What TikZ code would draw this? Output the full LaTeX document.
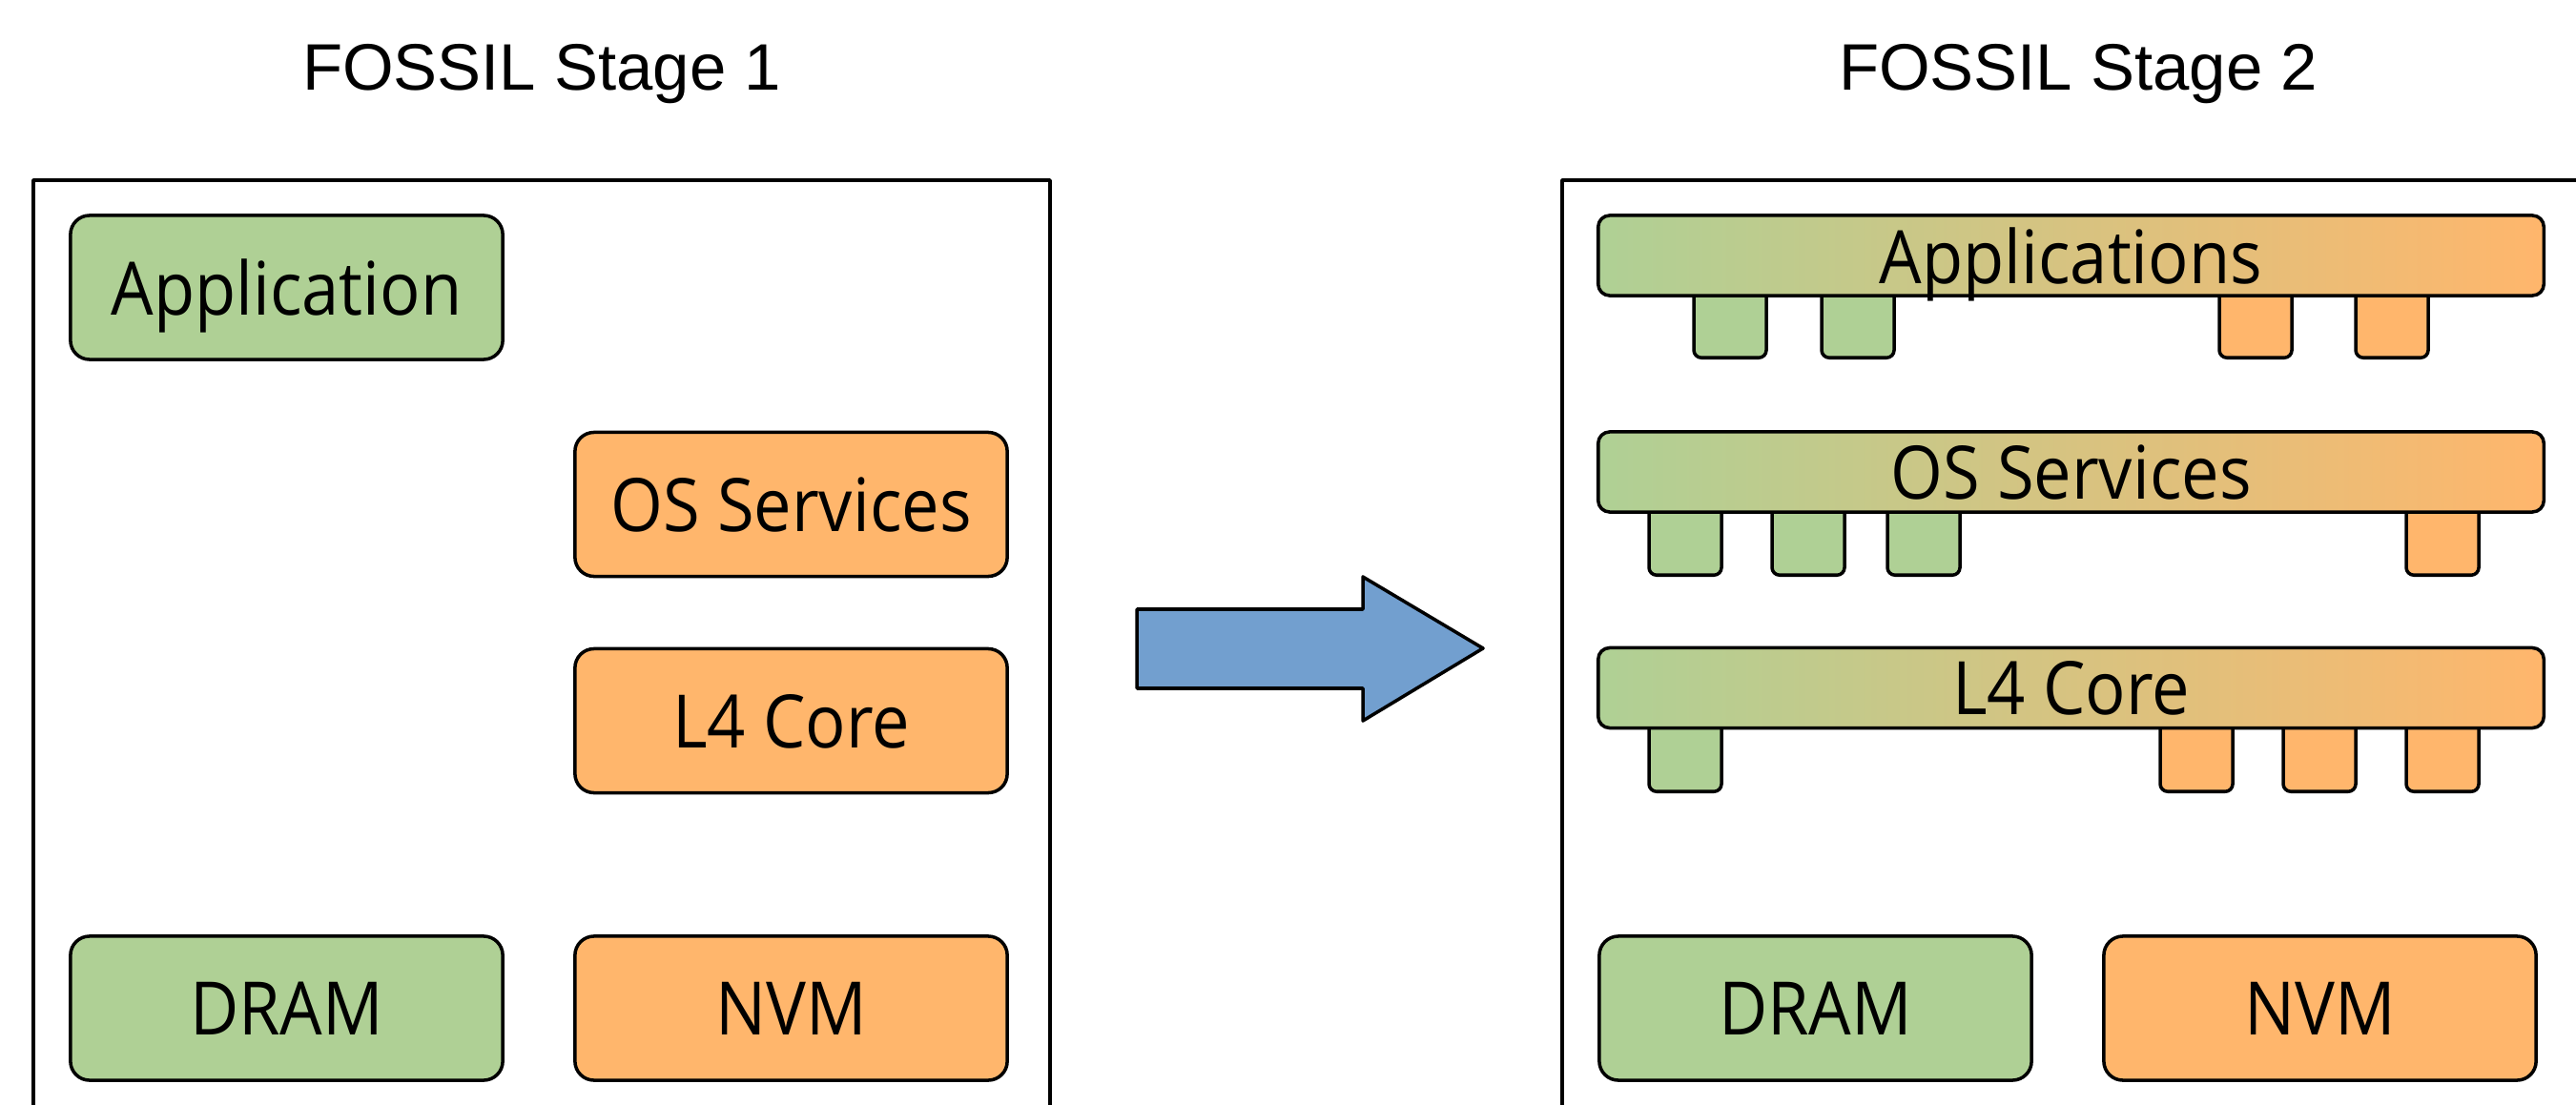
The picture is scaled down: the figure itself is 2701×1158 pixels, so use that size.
\documentclass[tikz,border=0pt]{standalone}
\usepackage{fontspec}
\setmainfont{Open Sans}[FakeStretch=0.91]
\newfontfamily\titlefont{Liberation Sans}
\definecolor{memgreen}{HTML}{AFD095}
\definecolor{memorange}{HTML}{FFB66C}
\definecolor{arrowblue}{HTML}{729FCF}
\begin{document}
\begin{tikzpicture}[x=0.01cm,y=-0.01cm,line width=1pt,line join=round,
    title/.style={font=\titlefont\fontsize{19.6}{24}\selectfont},
    blk/.style={draw,rounded corners=0.2cm,inner sep=0pt,text depth=0pt,minimum width=4.53cm,minimum height=1.51cm,font=\fontsize{22}{26}\selectfont},
    bar/.style={draw,rounded corners=0.12cm,inner sep=0pt,text depth=0pt,minimum width=9.91cm,minimum height=0.84cm,left color=memgreen,right color=memorange,font=\fontsize{22}{26}\selectfont},
    peg/.style={draw,rounded corners=0.08cm,inner sep=0pt,minimum width=0.76cm,minimum height=0.9cm,anchor=south}]
    \clip (0,0) rectangle (2701,1158);
    % headings
    \node[title] (title1) at (568,78) {FOSSIL Stage 1};
    \node[title] (title2) at (2179,78) {FOSSIL Stage 2};
    % frames
    \draw (35,189) rectangle (1101,1250);
    \draw (1638,189) rectangle (2800,1250);
    % stage 1
    \node[blk,fill=memgreen] (app) at (300.5,301.5) {Application};
    \node[blk,fill=memorange] (os) at (829.5,529) {OS Services};
    \node[blk,fill=memorange] (core) at (829.5,756) {L4 Core};
    \node[blk,fill=memgreen] (dram) at (300.5,1057.5) {DRAM};
    \node[blk,fill=memorange] (nvm) at (829.5,1057.5) {NVM};
    % stage 2: pegs first, bars on top
    \foreach \x/\c in {1814/memgreen,1948/memgreen,2365/memorange,2508/memorange}
    \node[peg,fill=\c] at (\x,377) {};
    \foreach \x/\c in {1767/memgreen,1896/memgreen,2017/memgreen,2561/memorange}
    \node[peg,fill=\c] at (\x,605) {};
    \foreach \x/\c in {1767/memgreen,2303/memorange,2432/memorange,2561/memorange}
    \node[peg,fill=\c] at (\x,832) {};
    \node[bar] (apps) at (2171.5,268) {Applications};
    \node[bar] (os2) at (2171.5,495) {OS Services};
    \node[bar] (core2) at (2171.5,721.5) {L4 Core};
    \node[blk,fill=memgreen] (dram2) at (1903.5,1057.5) {DRAM};
    \node[blk,fill=memorange] (nvm2) at (2432.5,1057.5) {NVM};
    % big arrow
    \draw[fill=arrowblue] (1192,639) -- (1429,639) -- (1429,605) -- (1555,680)
        -- (1429,756) -- (1429,722) -- (1192,722) -- cycle;
\end{tikzpicture}
\end{document}
